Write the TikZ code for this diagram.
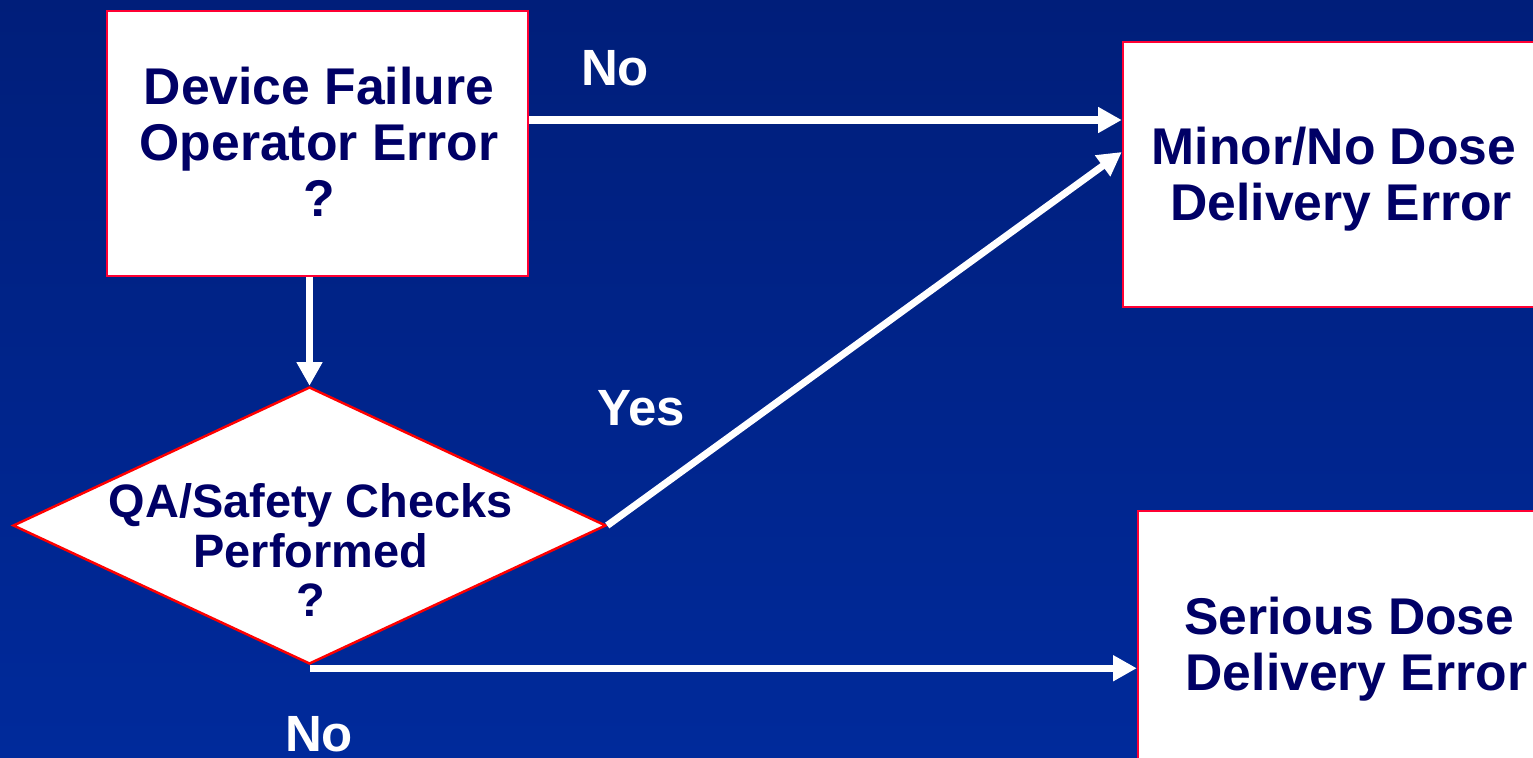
\documentclass[tikz,border=0pt]{standalone}
\usepackage{fontspec}
\setmainfont{Liberation Sans}
\usetikzlibrary{shapes.geometric,arrows.meta}
\definecolor{bgtop}{RGB}{0,30,122}
\definecolor{bgbot}{RGB}{0,42,155}
\definecolor{navy}{RGB}{0,0,102}
\definecolor{boxred}{RGB}{255,0,51}
\begin{document}
\begin{tikzpicture}[x=0.02cm,y=-0.02cm,
  box/.style 2 args={rectangle, draw=boxred, line width=1.4pt, fill=white, inner sep=0pt,
    minimum width=#1*0.02cm, minimum height=#2*0.02cm},
  decision/.style={diamond, draw=red, line width=1.4pt, fill=white, inner sep=0pt,
    minimum width=593*0.02cm, minimum height=277*0.02cm},
  txt/.style={text=navy, font=\bfseries\fontsize{29.4pt}{31.9pt}\selectfont, align=center, inner sep=0pt},
  dtxt/.style={text=navy, font=\bfseries\fontsize{26.7pt}{28.2pt}\selectfont, align=center, inner sep=0pt},
  lbl/.style={text=white, font=\bfseries\fontsize{29pt}{31pt}\selectfont, inner sep=0pt, anchor=base},
  arr/.style={draw=white, line width=4pt, -{Triangle[length=13.5pt,width=14pt]}}
]
\useasboundingbox (0,0) rectangle (1533,757);
\clip (0,0) rectangle (1533,757);
\fill[top color=bgtop, bottom color=bgbot] (0,0) rectangle (1533,757);

\node[box={421}{265}] (b1) at (317.5,143.5) {};
\node[box={428}{265}] (b2) at (1337,174.5) {};
\node[box={430}{265}] (b3) at (1353,643.5) {};
\node[decision] (d) at (309.5,525.5) {};

\node[txt] (t1) at (319,142) {Device Failure\\Operator Error\\?};
\node[txt] (t2) at (1334,179) {Minor/No Dose\\\hspace*{.278em}Delivery Error};
\node[txt] (t3) at (1356.5,649) {Serious Dose\hspace*{.278em}\\Delivery Error};
\node[dtxt] (td) at (310.7,550) {QA/Safety Checks\\Performed\\?};

\node[lbl] (lno1) at (615,86) {No};
\node[lbl] (lyes) at (641,425) {Yes};
\node[lbl] (lno2) at (319,751) {No};

\draw[arr] ([yshift=0.47cm]b1.east) -- ([yshift=0.47cm]b1.east -| b2.west);
\draw[arr] (b1.south -| d.north) -- (d.north);
\draw[arr] (d.east) -- ([yshift=0.45cm]b2.west);
\draw[arr] ([yshift=-0.06cm]d.south) -- ([yshift=-0.06cm]d.south -| b3.west);
\end{tikzpicture}
\end{document}
